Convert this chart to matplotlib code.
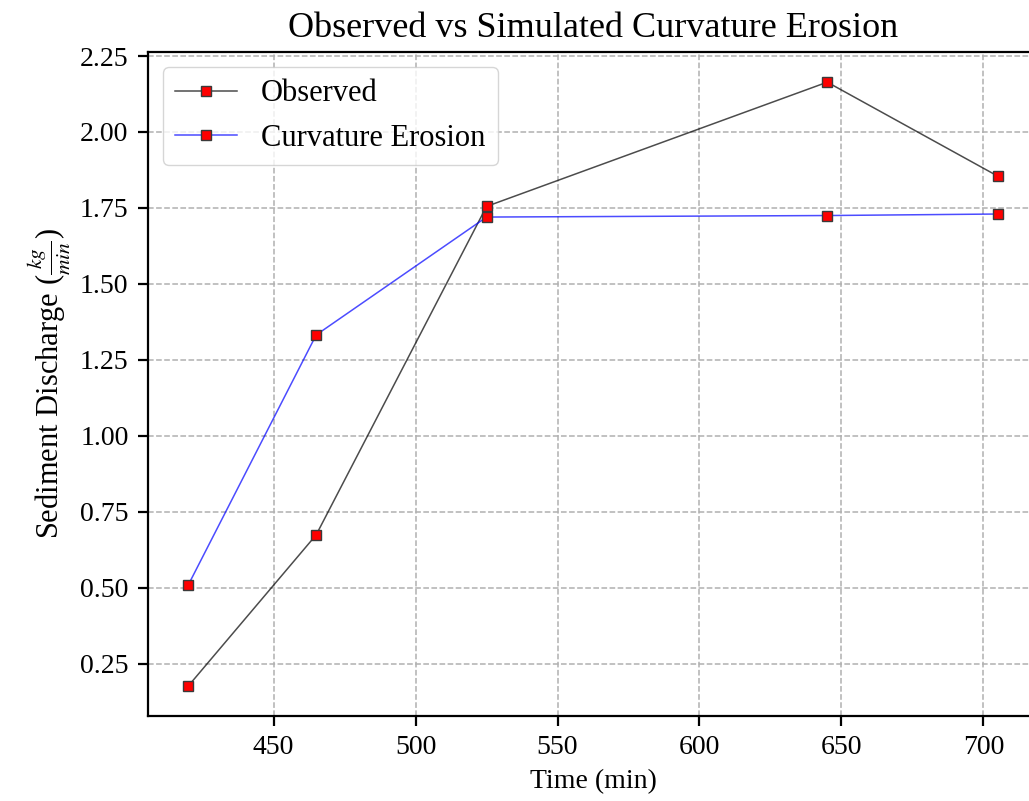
import matplotlib
matplotlib.use("Agg")
import matplotlib.pyplot as plt

plt.rcParams['font.family'] = ['Liberation Serif', 'DejaVu Serif']
plt.rcParams['mathtext.fontset'] = 'stix'

# Time of measurement (min)
time_min = [420, 465, 525, 645, 705]

# Sediment discharge (kg/min)
observed = [0.177, 0.674, 1.755, 2.164, 1.855]
curvature_erosion = [0.510, 1.332, 1.720, 1.725, 1.730]

fig = plt.figure(figsize=(10.29, 8.01), dpi=100)
# axes run a little past the right edge, like the original crop
ax = fig.add_axes([0.1438, 0.1061, 0.865, 0.829])

ax.plot(time_min, observed, color=(0, 0, 0, 0.7), linewidth=1.1,
        marker='s', markersize=6.5, markerfacecolor='red',
        markeredgecolor='#3a3a3a', label='Observed')
ax.plot(time_min, curvature_erosion, color=(0, 0, 1, 0.7), linewidth=1.1,
        marker='s', markersize=6.5, markerfacecolor='red',
        markeredgecolor='#3a3a3a', label='Curvature Erosion')

ax.grid(True, linestyle='--', color='#b0b0b0', linewidth=1.1)
ax.spines['right'].set_visible(False)
for side in ['left', 'bottom', 'top']:
    ax.spines[side].set_linewidth(1.6)
ax.set_yticks([0.25, 0.5, 0.75, 1.0, 1.25, 1.5, 1.75, 2.0, 2.25])
ax.tick_params(labelsize=20, length=7, width=1.6, pad=7)

ax.set_title('Observed vs Simulated Curvature Erosion', fontsize=26, pad=11)
ax.set_xlabel('Time (min)', fontsize=20, labelpad=6)
ax.set_ylabel(r'Sediment Discharge ($\frac{kg}{min}$)', fontsize=22, labelpad=5)

ax.legend(loc='upper left', fontsize=22)

fig.savefig('out.png', dpi=100)
